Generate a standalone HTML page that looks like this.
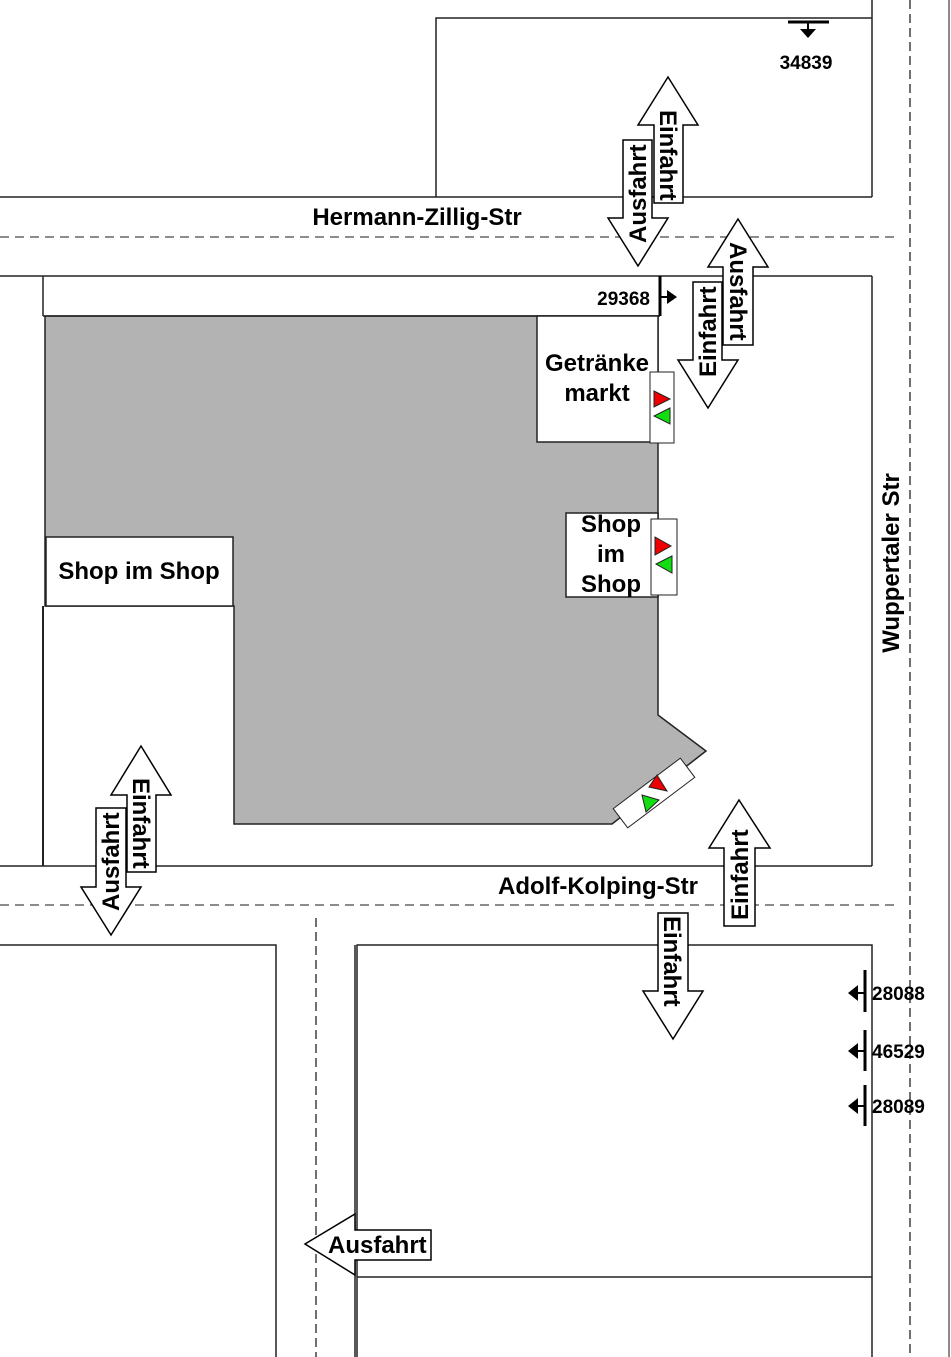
<!DOCTYPE html>
<html><head><meta charset="utf-8"><style>
html,body{margin:0;padding:0;background:#fff}
svg{display:block}
text{font-family:"Liberation Sans",Arial,sans-serif;font-weight:bold;fill:#000}
</style></head><body>
<svg width="951" height="1357" viewBox="0 0 951 1357" xmlns="http://www.w3.org/2000/svg">
<g fill="none" stroke="#222" stroke-width="1.5">
<polyline points="436,197 436,18 872,18"/>
<line x1="872" y1="0" x2="872" y2="197"/>
<line x1="0" y1="197" x2="872" y2="197"/>
<line x1="0" y1="276" x2="872" y2="276"/>
<line x1="872" y1="276" x2="872" y2="866"/>
<line x1="0" y1="866" x2="872" y2="866"/>
<line x1="949" y1="0" x2="949" y2="1357" stroke="#666"/>
<line x1="43" y1="276" x2="43" y2="316"/>
<line x1="43" y1="606" x2="43" y2="866" stroke-width="2"/>
<polyline points="0,945 276,945 276,1357"/>
<polyline points="357,1357 357,945 872,945 872,1357"/>
<line x1="357" y1="1277" x2="872" y2="1277"/>
<line x1="355" y1="945" x2="355" y2="1357"/>
</g>
<g stroke="#666" stroke-width="1.5" stroke-dasharray="9,6" fill="none">
<line x1="0" y1="237" x2="897" y2="237"/>
<line x1="0" y1="905" x2="897" y2="905"/>
</g>
<g stroke="#222" stroke-width="1.3" stroke-dasharray="9,5" fill="none">
<line x1="910" y1="0" x2="910" y2="1357"/>
<line x1="316" y1="918" x2="316" y2="1357"/>
</g>
<polygon points="45,316 658,316 658,715 706,751 612,824 234,824 234,606 45,606" fill="#b3b3b3" stroke="#222" stroke-width="1.5"/>
<line x1="43" y1="316" x2="660" y2="316" stroke="#222" stroke-width="1.5"/>
<line x1="660" y1="276" x2="660" y2="316" stroke="#000" stroke-width="3"/>
<polygon points="667,290 677,297 667,304" fill="#000"/>
<line x1="660" y1="297" x2="667" y2="297" stroke="#000" stroke-width="2"/>
<text x="650" y="305" font-size="19" text-anchor="end">29368</text>
<rect x="537" y="316" width="121" height="126" fill="#fff" stroke="#222" stroke-width="1.5"/>
<text x="597" y="371" font-size="24" text-anchor="middle">Getränke</text>
<text x="597" y="401" font-size="24" text-anchor="middle">markt</text>
<rect x="566" y="513" width="92" height="84" fill="#fff" stroke="#222" stroke-width="1.5"/>
<text x="611" y="532" font-size="24" text-anchor="middle">Shop</text>
<text x="611" y="562" font-size="24" text-anchor="middle">im</text>
<text x="611" y="592" font-size="24" text-anchor="middle">Shop</text>
<rect x="46" y="537" width="187" height="69" fill="#fff" stroke="#222" stroke-width="1.5"/>
<text x="139" y="579" font-size="24" text-anchor="middle">Shop im Shop</text>
<g stroke="#222" stroke-width="1">
<rect x="650" y="372" width="24" height="71" fill="#fff"/>
<polygon points="654,391 670,399 654,407" fill="#e00"/>
<polygon points="670,408 654,416 670,424" fill="#1d1"/>
<rect x="651" y="519" width="26" height="76" fill="#fff"/>
<polygon points="655,537 671,546 655,555" fill="#e00"/>
<polygon points="672,556 656,564 672,573" fill="#1d1"/>
<rect x="612" y="781" width="84" height="24" fill="#fff" transform="rotate(-37 654 793)"/>
<polygon points="649,787 657,775 667,791" fill="#e00"/>
<polygon points="642,795 659,800 646,812" fill="#1d1"/>
</g>
<g fill="#fff" stroke="#000" stroke-width="1.5">
<polygon points="654,203 654,125 638,125 668,77 698,125 683,125 683,203"/>
<polygon points="623,140 623,218 608,218 638,266 668,218 652,218 652,140"/>
<polygon points="723,345 723,267 708,267 738,219 768,267 753,267 753,345"/>
<polygon points="693,282 693,360 678,360 708,408 738,360 722,360 722,282"/>
<polygon points="127,872 127,795 111,795 141,746 171,795 156,795 156,872"/>
<polygon points="96,808 96,887 81,887 111,935 141,887 126,887 126,808"/>
<polygon points="724,926 724,848 709,848 739,800 770,848 755,848 755,926"/>
<polygon points="658,913 658,991 643,991 673,1039 703,991 688,991 688,913"/>
<polygon points="431,1230 355,1230 355,1214 305,1244 355,1275 355,1260 431,1260"/>
</g>
<g font-size="24">
<text transform="translate(660,110) rotate(90)">Einfahrt</text>
<text transform="translate(646,243) rotate(-90)">Ausfahrt</text>
<text transform="translate(730,242) rotate(90)">Ausfahrt</text>
<text transform="translate(716,377) rotate(-90)">Einfahrt</text>
<text transform="translate(133,778) rotate(90)">Einfahrt</text>
<text transform="translate(119,911) rotate(-90)">Ausfahrt</text>
<text transform="translate(748,920) rotate(-90)">Einfahrt</text>
<text transform="translate(664,916) rotate(90)">Einfahrt</text>
<text x="328" y="1253">Ausfahrt</text>
<text x="417" y="225" text-anchor="middle">Hermann-Zillig-Str</text>
<text x="598" y="894" text-anchor="middle">Adolf-Kolping-Str</text>
<text transform="translate(899,563) rotate(-90)" text-anchor="middle">Wuppertaler Str</text>
</g>
<line x1="788" y1="22" x2="829" y2="22" stroke="#000" stroke-width="3"/>
<line x1="808" y1="22" x2="808" y2="30" stroke="#000" stroke-width="2"/>
<polygon points="800,29 816,29 808,38" fill="#000"/>
<text x="806" y="69" font-size="19" text-anchor="middle">34839</text>
<g fill="#000" stroke="#000">
<line x1="865" y1="970" x2="865" y2="1012" stroke-width="3"/>
<line x1="857" y1="993" x2="865" y2="993" stroke-width="2"/>
<polygon points="848,993 858,985 858,1001" stroke="none"/>
<line x1="865" y1="1030" x2="865" y2="1071" stroke-width="3"/>
<line x1="857" y1="1051" x2="865" y2="1051" stroke-width="2"/>
<polygon points="848,1051 858,1043 858,1059" stroke="none"/>
<line x1="865" y1="1085" x2="865" y2="1126" stroke-width="3"/>
<line x1="857" y1="1106" x2="865" y2="1106" stroke-width="2"/>
<polygon points="848,1106 858,1098 858,1114" stroke="none"/>
</g>
<g font-size="19">
<text x="872" y="1000">28088</text>
<text x="872" y="1058">46529</text>
<text x="872" y="1113">28089</text>
</g>
</svg>
</body></html>
